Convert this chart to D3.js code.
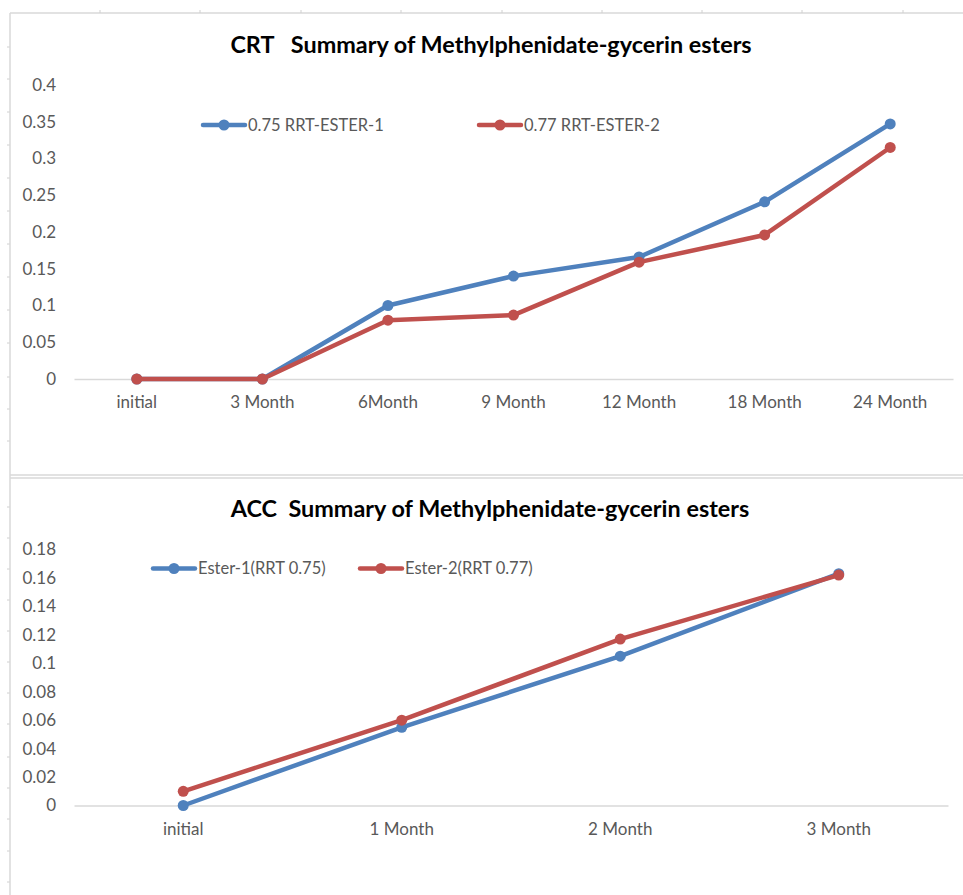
<!DOCTYPE html>
<html><head><meta charset="utf-8">
<script src="https://cdn.jsdelivr.net/npm/d3@7"></script>
<style>
html,body{margin:0;padding:0;background:#fff;}
svg{display:block;}
text{font-family:Lato,"Open Sans",sans-serif;}
</style></head>
<body>
<svg id="c" width="963" height="895"></svg>
<script>
// ---- Data ----
const crtCategories = ["initial","3 Month","6Month","9 Month","12 Month","18 Month","24 Month"];
const crtEster1 = [0, 0, 0.100, 0.140, 0.166, 0.241, 0.347];
const crtEster2 = [0, 0, 0.080, 0.087, 0.159, 0.196, 0.315];
const crtSeriesNames = ["0.75 RRT-ESTER-1","0.77 RRT-ESTER-2"];
const crtTicks = [0,0.05,0.1,0.15,0.2,0.25,0.3,0.35,0.4];
const crtTitle = "CRT\u00a0\u00a0\u00a0Summary of Methylphenidate-gycerin esters";

const accCategories = ["initial","1 Month","2 Month","3 Month"];
const accEster1 = [0, 0.055, 0.105, 0.163];
const accEster2 = [0.010, 0.060, 0.117, 0.162];
const accSeriesNames = ["Ester-1(RRT 0.75)","Ester-2(RRT 0.77)"];
const accTicks = [0,0.02,0.04,0.06,0.08,0.1,0.12,0.14,0.16,0.18];
const accTitle = "ACC\u00a0\u00a0Summary of Methylphenidate-gycerin esters";

const colors = ["#4f81bd","#c0504d"];
const svg = d3.select("#c");

// spreadsheet-like background decorations
const colTicks = [100,200,301,401,502,602,702,802,903];
const rowTicks = [47,79,112,145,178,211,244,277,310,343,377,409,441,507,538,569,600,631,662,693,724,757,788,819,851,882];
svg.append("line").attr("x1",10).attr("x2",963).attr("y1",13).attr("y2",13).attr("stroke","#d9d9d9").attr("stroke-width",1.5);
svg.selectAll(".ct").data(colTicks).join("line").attr("x1",d=>d).attr("x2",d=>d).attr("y1",10).attr("y2",13).attr("stroke","#d0d0d0");
svg.selectAll(".rt").data(rowTicks).join("line").attr("x1",7).attr("x2",10).attr("y1",d=>d).attr("y2",d=>d).attr("stroke","#d0d0d0");
svg.append("line").attr("x1",10).attr("x2",10).attr("y1",13).attr("y2",895).attr("stroke","#d9d9d9").attr("stroke-width",1.5);
svg.append("line").attr("x1",10).attr("x2",963).attr("y1",475).attr("y2",475).attr("stroke","#d9d9d9").attr("stroke-width",1.5);
svg.append("line").attr("x1",10).attr("x2",963).attr("y1",478).attr("y2",478).attr("stroke","#d9d9d9").attr("stroke-width",1.5);

function panel(cfg){
  const g = svg.append("g");
  const x = d3.scaleBand().domain(cfg.categories).range([cfg.x0,cfg.x1]);
  const y = d3.scaleLinear().domain([0,d3.max(cfg.ticks)]).range([cfg.yZero,cfg.yTop]);
  // title
  g.append("text").attr("x",cfg.titleX).attr("y",cfg.titleY).attr("text-anchor","middle")
    .attr("font-size",cfg.titleSize).attr("font-weight","bold").attr("fill","#000").text(cfg.title);
  // y axis labels
  const ya = d3.axisLeft(y).tickValues(cfg.ticks).tickSize(0).tickPadding(0).tickFormat(d=>String(+d.toFixed(2)));
  const yg = g.append("g").attr("transform",`translate(${cfg.yLabelX},0)`).call(ya);
  yg.select(".domain").remove();
  yg.selectAll("text").attr("font-size",17).attr("fill","#595959").attr("font-family","Lato,sans-serif");
  // x axis
  const xa = d3.axisBottom(x).tickSize(0).tickPadding(cfg.xPad);
  const xg = g.append("g").attr("transform",`translate(0,${cfg.yZero})`).call(xa);
  xg.select(".domain").attr("stroke","#d9d9d9").attr("stroke-width",1.5);
  xg.selectAll("text").attr("font-size",17).attr("fill","#595959").attr("font-family","Lato,sans-serif");
  // series
  const line = d3.line().x((d,i)=>x(cfg.categories[i])+x.bandwidth()/2).y(d=>y(d));
  cfg.series.forEach((s,k)=>{
    g.append("path").datum(s).attr("d",line).attr("fill","none").attr("stroke",colors[k])
      .attr("stroke-width",4.5).attr("stroke-linejoin","round").attr("stroke-linecap","round");
    g.selectAll(null).data(s).join("circle")
      .attr("cx",(d,i)=>x(cfg.categories[i])+x.bandwidth()/2).attr("cy",d=>y(d)).attr("r",5.5).attr("fill",colors[k]);
  });
  // legend
  cfg.names.forEach((n,k)=>{
    const lx = cfg.legX[k], ly = cfg.legY;
    g.append("line").attr("x1",lx).attr("x2",lx+42).attr("y1",ly).attr("y2",ly).attr("stroke",colors[k]).attr("stroke-width",4.5).attr("stroke-linecap","round");
    g.append("circle").attr("cx",lx+21).attr("cy",ly).attr("r",5.5).attr("fill",colors[k]);
    g.append("text").attr("x",lx+45).attr("y",ly).attr("dy","0.35em").attr("font-size",16.5).attr("fill","#595959").text(n);
  });
}

panel({categories:crtCategories, series:[crtEster1,crtEster2], names:crtSeriesNames, ticks:crtTicks,
  title:crtTitle, titleX:491, titleY:53, titleSize:23.4,
  x0:74, x1:953, yZero:379, yTop:85, yLabelX:56, xPad:17,
  legX:[203,479], legY:125});

panel({categories:accCategories, series:[accEster1,accEster2], names:accSeriesNames, ticks:accTicks,
  title:accTitle, titleX:490, titleY:517, titleSize:23.4,
  x0:74, x1:948, yZero:805.5, yTop:549.5, yLabelX:56, xPad:17,
  legX:[153,360], legY:568.5});
</script>
</body></html>
